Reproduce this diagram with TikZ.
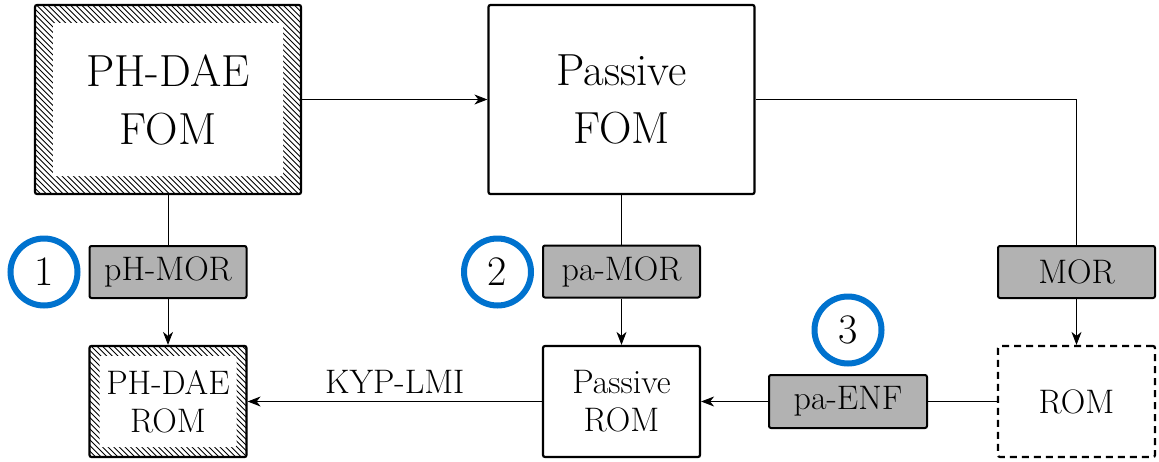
\documentclass[tikz,border=0pt]{standalone}
\usetikzlibrary{arrows.meta,calc}
\definecolor{numblue}{RGB}{0,114,206}
\tikzset{
 box/.style={draw, line width=2.2pt, rounded corners=2pt, inner sep=0pt, align=center},
 big/.style={box, minimum width=266pt, minimum height=189pt, font=\fontsize{45}{58}\selectfont},
 small/.style={box, minimum width=157pt, minimum height=111pt, font=\fontsize{34}{38}\selectfont},
 hatch/.style={
   path picture={
     \foreach \k in {0,...,90}
       \draw[line width=0.9pt] ($(path picture bounding box.north west)+(\k*5.6pt-200pt,0pt)$) -- ++(300pt,-300pt);
     \fill[white] ($(path picture bounding box.south west)+(#1,#1)$) rectangle ($(path picture bounding box.north east)-(#1,#1)$);}},
 op/.style={draw, line width=2pt, fill=black!30, rounded corners=2pt, minimum width=157pt, minimum height=52pt, inner sep=0pt, font=\fontsize{34}{38}\selectfont},
 num/.style={circle, draw=numblue, line width=6pt, minimum size=67pt, inner sep=0pt, font=\fontsize{42}{46}\selectfont},
 conn/.style={line width=0.9pt},
 arr/.style={conn, -{Stealth[length=13pt,width=10pt,inset=4pt]}},
}
\begin{document}
\begin{tikzpicture}[x=1pt,y=-1pt]
\useasboundingbox (0,0) rectangle (1159,461);
\node[big, hatch=18pt] (fom) at (168,99.5) {PH-DAE\\FOM};
\node[big] (pfom) at (621.5,99.5) {Passive\\FOM};
\node[op] (phmor) at (168,272) {pH-MOR};
\node[op] (pamor) at (621.5,271.5) {pa-MOR};
\node[op] (mor) at (1076.5,272) {MOR};
\node[small, hatch=10pt] (phrom) at (168,401.5) {PH-DAE\\ROM};
\node[small] (prom) at (621.5,401.5) {Passive\\ROM};
\node[small, dashed, dash pattern=on 7pt off 5pt] (rom) at (1076.5,401.5) {ROM};
\node[op, minimum width=158pt, minimum height=53pt] (paenf) at (848,401.5) {pa-ENF};
\node[num] (c1) at (44,272) {1};
\node[num] (c2) at (497.5,272) {2};
\node[num] (c3) at (848,330) {3};
\draw[arr] (fom) -- (pfom);
\draw[conn] (pfom.east) -| (mor.north);
\draw[arr] (mor.south) -- (rom.north);
\draw[conn] (fom.south) -- (phmor.north);
\draw[arr] (phmor.south) -- (phrom.north);
\draw[conn] (pfom.south) -- (pamor.north);
\draw[arr] (pamor.south) -- (prom.north);
\draw[conn] (rom.west) -- (paenf.east);
\draw[arr] (paenf.west) -- (prom.east);
\draw[arr] (prom.west) -- node[above=8pt, inner sep=0pt, font=\fontsize{34}{38}\selectfont] (kyp) {KYP-LMI} (phrom.east);
\end{tikzpicture}
\end{document}
